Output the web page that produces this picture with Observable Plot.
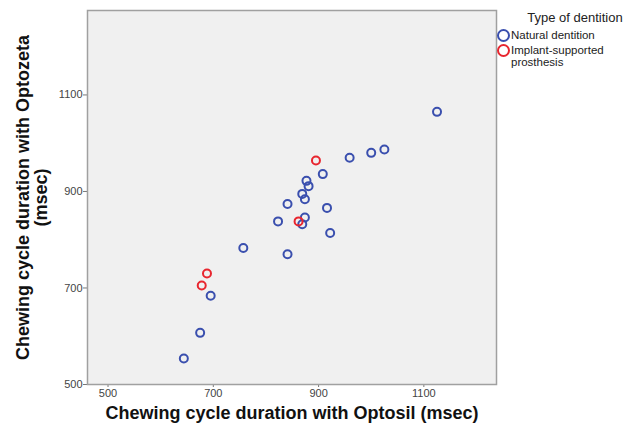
<!DOCTYPE html>
<html>
<head>
<meta charset="utf-8">
<script src="https://cdn.jsdelivr.net/npm/d3@7"></script>
<script src="https://cdn.jsdelivr.net/npm/@observablehq/plot@0.6"></script>
<style>
  html, body { margin: 0; padding: 0; background: #fff; }
  #wrap { position: relative; width: 639px; height: 429px; font-family: Arial, "Liberation Sans", sans-serif; }
  #legend { position: absolute; left: 497px; top: 10px; width: 142px; font-family: Arial, "Liberation Sans", sans-serif; color: #222; }
  #legend .title { font-size: 13px; text-align: center; margin-left: 14px; margin-bottom: 4px; line-height: 15px; }
  #legend .item { display: flex; align-items: flex-start; font-size: 11.5px; line-height: 12px; margin-bottom: 2px; }
  #legend .sw { flex: none; width: 9px; height: 9px; border-radius: 50%; border: 2px solid; margin-right: 1px; margin-top: 0px; }
  g[aria-label="x-axis label"] text, g[aria-label="y-axis label"] text { font-weight: bold; font-size: 18px; fill: #111; }
  g[aria-label="x-axis tick label"] text, g[aria-label="y-axis tick label"] text { font-size: 11px; fill: #444; }
</style>
</head>
<body>
<div id="wrap"><div id="legend"></div></div>
<script>
const types = ["Natural dentition", "Implant-supported prosthesis"];
const colors = ["#3a4fae", "#e8262f"];
const optosil = [644, 675, 695, 757, 841, 823, 869, 874, 841, 869, 874, 881, 877, 916, 922, 1125, 959, 1000, 1025, 908, 678, 688, 862, 895];
const optozeta = [554, 607, 684, 783, 770, 838, 832, 846, 874, 895, 884, 911, 922, 866, 814, 1065, 970, 980, 987, 936, 705, 730, 838, 964];
const group = [0,0,0,0,0,0,0,0,0,0,0,0,0,0,0,0,0,0,0,0,1,1,1,1];
const ticks = [500, 700, 900, 1100];
const xTitle = "Chewing cycle duration with Optosil (msec)";
const yTitle = "Chewing cycle duration with Optozeta\n(msec)";

const data = optosil.map((x, i) => ({x, y: optozeta[i], type: types[group[i]]}));

const chart = Plot.plot({
  width: 639,
  height: 429,
  marginLeft: 87,
  marginRight: 143,
  marginTop: 10,
  marginBottom: 45,
  style: {fontFamily: "Arial, 'Liberation Sans', sans-serif", background: "transparent"},
  x: {domain: [461, 1238]},
  y: {domain: [500, 1275]},
  color: {domain: types, range: colors},
  marks: [
    Plot.frame({fill: "#f0f0f0", stroke: "none"}),
    Plot.axisY({ticks, tickSize: 4, tickPadding: 1, tickFormat: d => String(d), stroke: "#777",
      label: yTitle, labelAnchor: "center", labelOffset: 71, labelArrow: "none"}),
    Plot.axisX({ticks, tickSize: 3, tickPadding: 2, tickFormat: d => String(d), stroke: "#777",
      label: xTitle, labelAnchor: "center", labelOffset: 34, labelArrow: "none"}),
    Plot.frame({stroke: "#a0a0a0", strokeWidth: 1.5}),
    Plot.dot(data, {x: "x", y: "y", stroke: "type", r: 4, strokeWidth: 2})
  ]
});
const wrap = document.getElementById("wrap");
wrap.insertBefore(chart, wrap.firstChild);

const legend = document.getElementById("legend");
legend.innerHTML = `<div class="title">Type of dentition</div>` +
  types.map((t, i) => `<div class="item"><span class="sw" style="border-color:${colors[i]}"></span><span>${t === types[1] ? "Implant-supported<br>prosthesis" : t}</span></div>`).join("");
</script>
</body>
</html>
